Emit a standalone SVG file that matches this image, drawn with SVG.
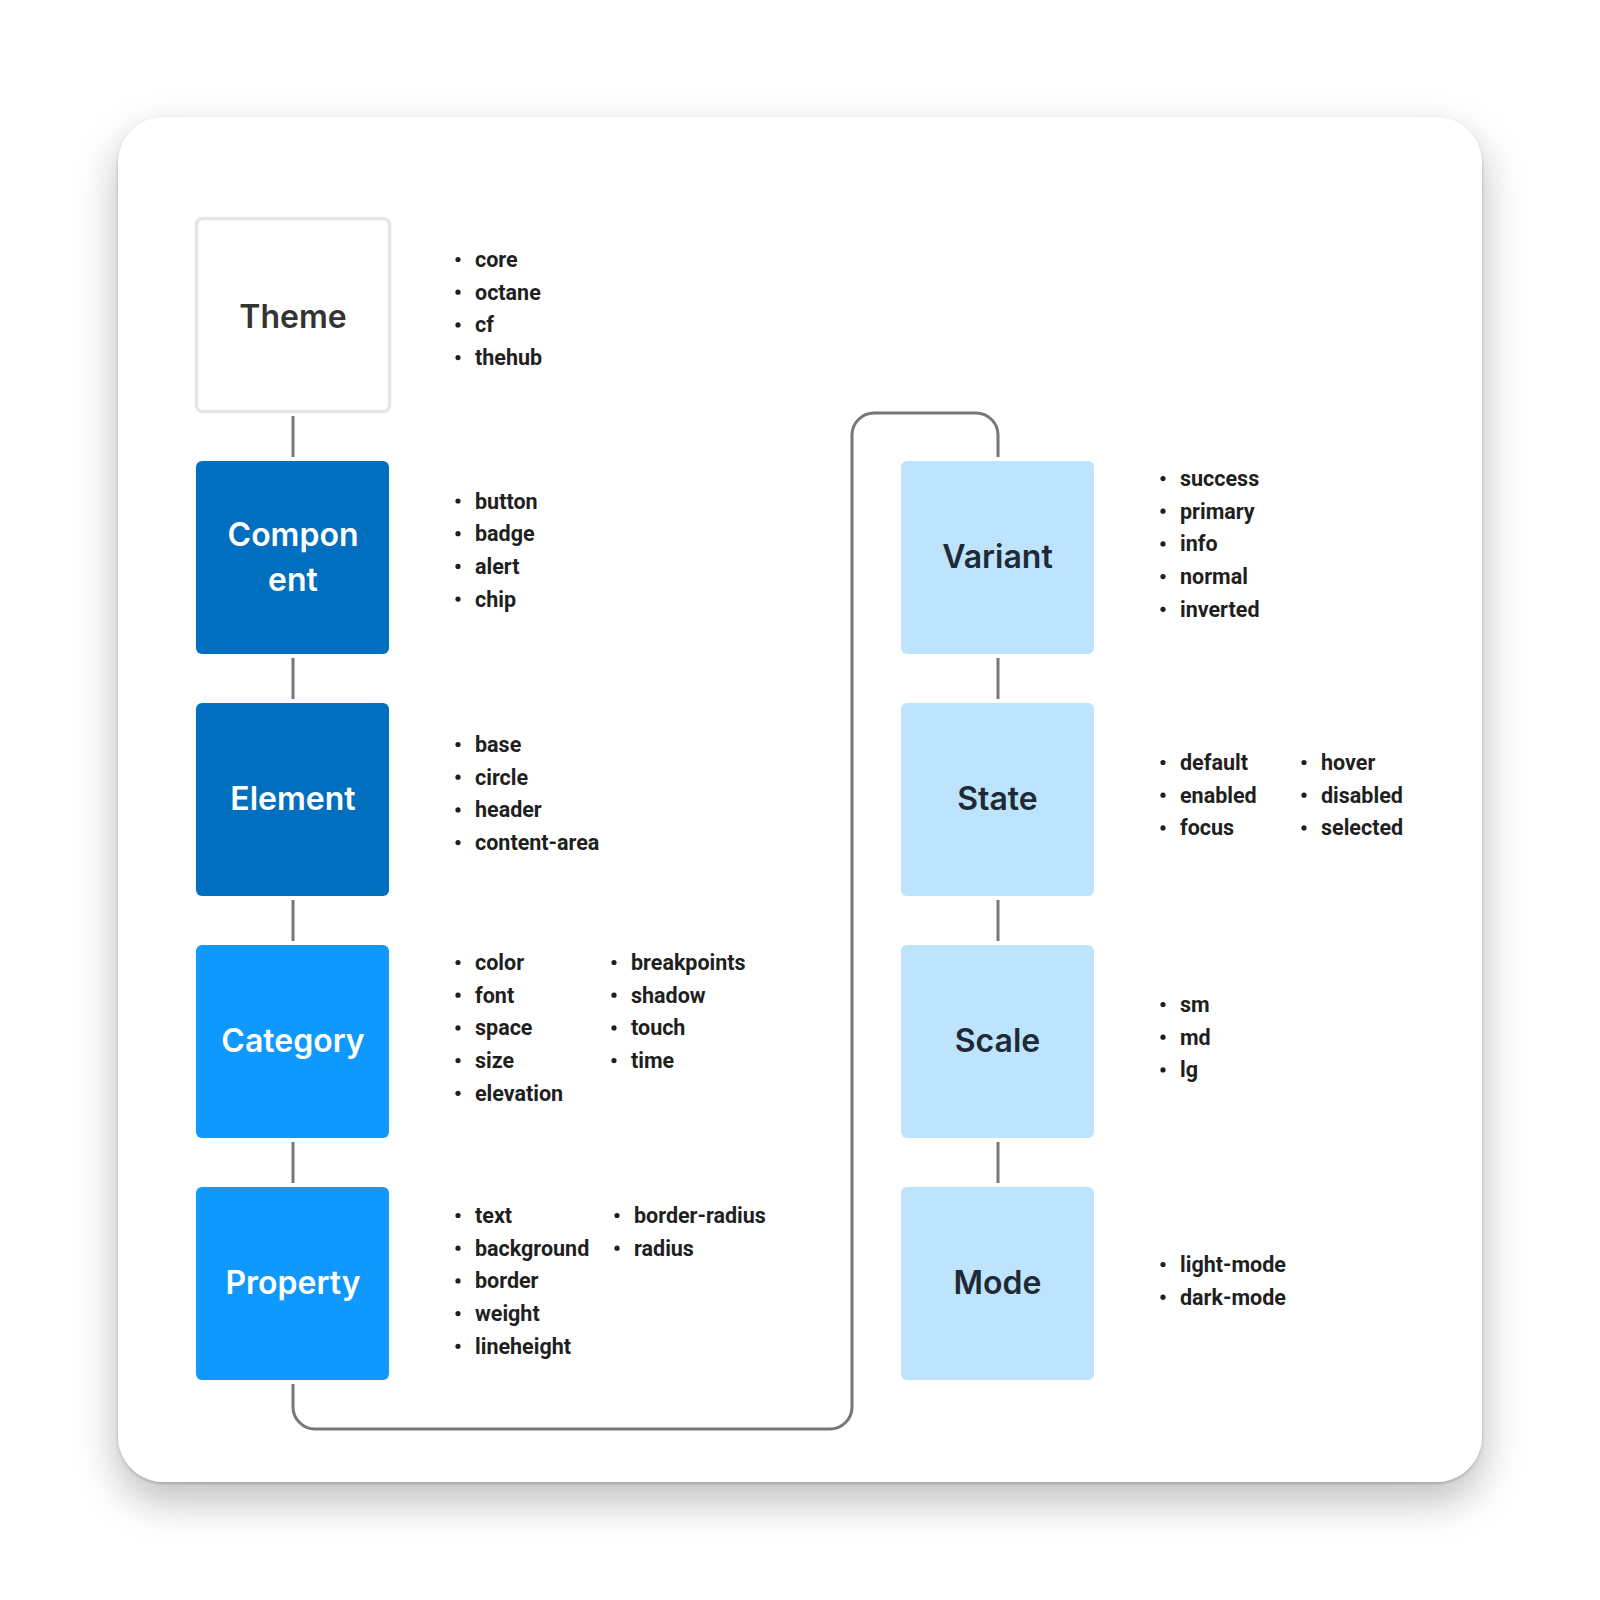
<svg xmlns="http://www.w3.org/2000/svg" width="1600" height="1600" viewBox="0 0 1600 1600">
<defs>
<filter id="cardShadow" x="-10%" y="-10%" width="120%" height="125%">
<feDropShadow dx="0" dy="18" stdDeviation="22" flood-color="#000" flood-opacity="0.22"/>
<feDropShadow dx="0" dy="1.5" stdDeviation="1.5" flood-color="#000" flood-opacity="0.25"/>
</filter>
<style>
.lbl{font-family:Inter,"Noto Sans","Liberation Sans",sans-serif;font-weight:600;font-size:32px;text-anchor:middle}
.lst{font-family:Roboto,"Liberation Sans",sans-serif;font-weight:700;font-size:21.5px;fill:#1f1f1f}
.bul{fill:#1f1f1f}
.dark{fill:#006FBF}
.mid{fill:#0F99FF}
.light{fill:#BEE3FC}
.w{fill:#ffffff}
.dk{fill:#1E2A36}
.con{fill:none;stroke:#777777;stroke-width:3}
</style>
</defs>
<rect width="1600" height="1600" fill="#ffffff"/>
<rect id="card" x="118" y="117" width="1364" height="1365" rx="46" fill="#ffffff" filter="url(#cardShadow)"/>

<g id="connectors">
<line class="con" x1="293" y1="416" x2="293" y2="457"/>
<line class="con" x1="293" y1="658" x2="293" y2="699"/>
<line class="con" x1="293" y1="900" x2="293" y2="941"/>
<line class="con" x1="293" y1="1142" x2="293" y2="1183"/>
<path class="con" d="M293 1384 V1407 A22 22 0 0 0 315 1429 H830 A22 22 0 0 0 852 1407 V435 A22 22 0 0 1 874 413 H976 A22 22 0 0 1 998 435 V457"/>
<line class="con" x1="998" y1="658" x2="998" y2="699"/>
<line class="con" x1="998" y1="900" x2="998" y2="941"/>
<line class="con" x1="998" y1="1142" x2="998" y2="1183"/>
</g>

<g id="theme">
<rect x="196.5" y="218.5" width="193" height="193" rx="6" fill="#ffffff" stroke="#E6E6E6" stroke-width="3.5"/>
<text class="lbl" x="293" y="328" fill="#333333">Theme</text>
<g class="bul"><circle cx="458" cy="259.5" r="2.6"/><circle cx="458" cy="292.2" r="2.6"/><circle cx="458" cy="324.9" r="2.6"/><circle cx="458" cy="357.6" r="2.6"/></g>
<text class="lst" x="475" y="267"><tspan x="475">core</tspan><tspan x="475" dy="32.7">octane</tspan><tspan x="475" dy="32.7">cf</tspan><tspan x="475" dy="32.7">thehub</tspan></text>
</g>

<g id="component">
<rect class="dark" x="196" y="461" width="193" height="193" rx="6"/>
<text class="lbl w" x="293" y="546">Compon</text>
<text class="lbl w" x="293" y="591">ent</text>
<g class="bul"><circle cx="458" cy="501" r="2.6"/><circle cx="458" cy="533.7" r="2.6"/><circle cx="458" cy="566.4" r="2.6"/><circle cx="458" cy="599.1" r="2.6"/></g>
<text class="lst" x="475" y="508.5"><tspan x="475">button</tspan><tspan x="475" dy="32.7">badge</tspan><tspan x="475" dy="32.7">alert</tspan><tspan x="475" dy="32.7">chip</tspan></text>
</g>

<g id="element">
<rect class="dark" x="196" y="703" width="193" height="193" rx="6"/>
<text class="lbl w" x="293" y="810">Element</text>
<g class="bul"><circle cx="458" cy="744.5" r="2.6"/><circle cx="458" cy="777.2" r="2.6"/><circle cx="458" cy="809.9" r="2.6"/><circle cx="458" cy="842.6" r="2.6"/></g>
<text class="lst" x="475" y="752"><tspan x="475">base</tspan><tspan x="475" dy="32.7">circle</tspan><tspan x="475" dy="32.7">header</tspan><tspan x="475" dy="32.7">content-area</tspan></text>
</g>

<g id="category">
<rect class="mid" x="196" y="945" width="193" height="193" rx="6"/>
<text class="lbl w" x="293" y="1052">Category</text>
<g class="bul"><circle cx="458" cy="962.5" r="2.6"/><circle cx="458" cy="995.2" r="2.6"/><circle cx="458" cy="1027.9" r="2.6"/><circle cx="458" cy="1060.6" r="2.6"/><circle cx="458" cy="1093.3" r="2.6"/>
<circle cx="614" cy="962.5" r="2.6"/><circle cx="614" cy="995.2" r="2.6"/><circle cx="614" cy="1027.9" r="2.6"/><circle cx="614" cy="1060.6" r="2.6"/></g>
<text class="lst" x="475" y="970"><tspan x="475">color</tspan><tspan x="475" dy="32.7">font</tspan><tspan x="475" dy="32.7">space</tspan><tspan x="475" dy="32.7">size</tspan><tspan x="475" dy="32.7">elevation</tspan></text>
<text class="lst" x="631" y="970"><tspan x="631">breakpoints</tspan><tspan x="631" dy="32.7">shadow</tspan><tspan x="631" dy="32.7">touch</tspan><tspan x="631" dy="32.7">time</tspan></text>
</g>

<g id="property">
<rect class="mid" x="196" y="1187" width="193" height="193" rx="6"/>
<text class="lbl w" x="293" y="1294">Property</text>
<g class="bul"><circle cx="458" cy="1215.5" r="2.6"/><circle cx="458" cy="1248.2" r="2.6"/><circle cx="458" cy="1280.9" r="2.6"/><circle cx="458" cy="1313.6" r="2.6"/><circle cx="458" cy="1346.3" r="2.6"/>
<circle cx="617" cy="1215.5" r="2.6"/><circle cx="617" cy="1248.2" r="2.6"/></g>
<text class="lst" x="475" y="1223"><tspan x="475">text</tspan><tspan x="475" dy="32.7">background</tspan><tspan x="475" dy="32.7">border</tspan><tspan x="475" dy="32.7">weight</tspan><tspan x="475" dy="32.7">lineheight</tspan></text>
<text class="lst" x="634" y="1223"><tspan x="634">border-radius</tspan><tspan x="634" dy="32.7">radius</tspan></text>
</g>

<g id="variant">
<rect class="light" x="901" y="461" width="193" height="193" rx="6"/>
<text class="lbl dk" x="997.5" y="568">Variant</text>
<g class="bul"><circle cx="1163" cy="478.5" r="2.6"/><circle cx="1163" cy="511.2" r="2.6"/><circle cx="1163" cy="543.9" r="2.6"/><circle cx="1163" cy="576.6" r="2.6"/><circle cx="1163" cy="609.3" r="2.6"/></g>
<text class="lst" x="1180" y="486"><tspan x="1180">success</tspan><tspan x="1180" dy="32.7">primary</tspan><tspan x="1180" dy="32.7">info</tspan><tspan x="1180" dy="32.7">normal</tspan><tspan x="1180" dy="32.7">inverted</tspan></text>
</g>

<g id="state">
<rect class="light" x="901" y="703" width="193" height="193" rx="6"/>
<text class="lbl dk" x="997.5" y="810">State</text>
<g class="bul"><circle cx="1163" cy="762.5" r="2.6"/><circle cx="1163" cy="795.2" r="2.6"/><circle cx="1163" cy="827.9" r="2.6"/>
<circle cx="1304" cy="762.5" r="2.6"/><circle cx="1304" cy="795.2" r="2.6"/><circle cx="1304" cy="827.9" r="2.6"/></g>
<text class="lst" x="1180" y="770"><tspan x="1180">default</tspan><tspan x="1180" dy="32.7">enabled</tspan><tspan x="1180" dy="32.7">focus</tspan></text>
<text class="lst" x="1321" y="770"><tspan x="1321">hover</tspan><tspan x="1321" dy="32.7">disabled</tspan><tspan x="1321" dy="32.7">selected</tspan></text>
</g>

<g id="scale">
<rect class="light" x="901" y="945" width="193" height="193" rx="6"/>
<text class="lbl dk" x="997.5" y="1052">Scale</text>
<g class="bul"><circle cx="1163" cy="1004.5" r="2.6"/><circle cx="1163" cy="1037.2" r="2.6"/><circle cx="1163" cy="1069.9" r="2.6"/></g>
<text class="lst" x="1180" y="1012"><tspan x="1180">sm</tspan><tspan x="1180" dy="32.7">md</tspan><tspan x="1180" dy="32.7">lg</tspan></text>
</g>

<g id="mode">
<rect class="light" x="901" y="1187" width="193" height="193" rx="6"/>
<text class="lbl dk" x="997.5" y="1294">Mode</text>
<g class="bul"><circle cx="1163" cy="1264.5" r="2.6"/><circle cx="1163" cy="1297.2" r="2.6"/></g>
<text class="lst" x="1180" y="1272"><tspan x="1180">light-mode</tspan><tspan x="1180" dy="32.7">dark-mode</tspan></text>
</g>
</svg>
